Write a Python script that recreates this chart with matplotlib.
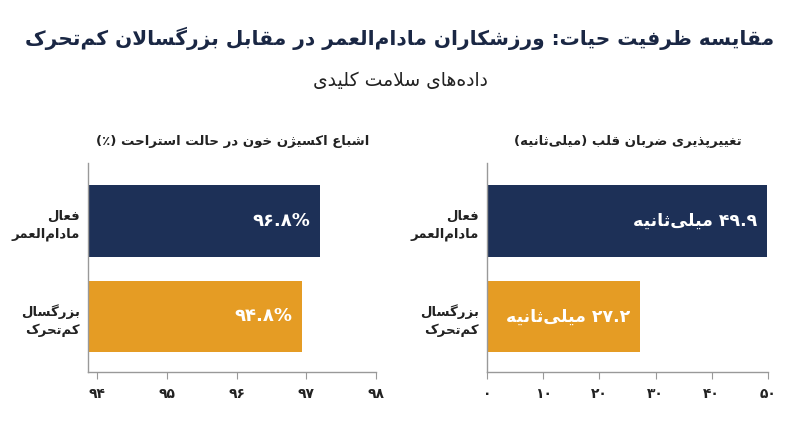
import re
import matplotlib
matplotlib.use("Agg")
import matplotlib.pyplot as plt

# data
categories = ["فعال\nمادام‌العمر", "بزرگسال\nکم‌تحرک"]
spo2_values = [96.8, 94.8]
spo2_labels = ["۹۶.۸%", "۹۴.۸%"]
hrv_values = [49.9, 27.2]
hrv_labels = ["۴۹.۹ میلی‌ثانیه", "۲۷.۲ میلی‌ثانیه"]
spo2_ticks = [94, 95, 96, 97, 98]
spo2_ticklabels = ["۹۴", "۹۵", "۹۶", "۹۷", "۹۸"]
hrv_ticks = [0, 10, 20, 30, 40, 50]
hrv_ticklabels = ["۰", "۱۰", "۲۰", "۳۰", "۴۰", "۵۰"]

title = "مقایسه ظرفیت حیات: ورزشکاران مادام‌العمر در مقابل بزرگسالان کم‌تحرک"
subtitle = "داده‌های سلامت کلیدی"
spo2_title = "اشباع اکسیژن خون در حالت استراحت (٪)"
hrv_title = "تغییرپذیری ضربان قلب (میلی‌ثانیه)"

colors = ["#1d3057", "#e59c24"]

# --- tiny arabic/persian shaper: matplotlib does no shaping or bidi ---
DUAL = {}
for base, start in [("ئ", 0xFE89), ("ب", 0xFE8F), ("ت", 0xFE95), ("ث", 0xFE99),
                    ("ج", 0xFE9D), ("ح", 0xFEA1), ("خ", 0xFEA5), ("س", 0xFEB1),
                    ("ش", 0xFEB5), ("ص", 0xFEB9), ("ض", 0xFEBD), ("ط", 0xFEC1),
                    ("ظ", 0xFEC5), ("ع", 0xFEC9), ("غ", 0xFECD), ("ف", 0xFED1),
                    ("ق", 0xFED5), ("ك", 0xFED9), ("ل", 0xFEDD), ("م", 0xFEE1),
                    ("ن", 0xFEE5), ("ه", 0xFEE9), ("ي", 0xFEF1), ("پ", 0xFB56),
                    ("چ", 0xFB7A), ("ک", 0xFB8E), ("گ", 0xFB92), ("ی", 0xFBFC)]:
    DUAL[base] = tuple(chr(start + k) for k in range(4))
RIGHT = {}
for base, start in [("آ", 0xFE81), ("أ", 0xFE83), ("ؤ", 0xFE85), ("إ", 0xFE87),
                    ("ا", 0xFE8D), ("ة", 0xFE93), ("د", 0xFEA9), ("ذ", 0xFEAB),
                    ("ر", 0xFEAD), ("ز", 0xFEAF), ("و", 0xFEED), ("ژ", 0xFB8A),
                    ("لا", 0xFEFB)]:
    RIGHT[base] = (chr(start), chr(start + 1))
MIRROR = str.maketrans("()", ")(")


def shape(text):
    units = []
    i = 0
    while i < len(text):
        if text[i:i + 2] == "لا":
            units.append("لا")
            i += 2
        else:
            units.append(text[i])
            i += 1
    out = []
    for i, u in enumerate(units):
        forms = DUAL.get(u) or RIGHT.get(u)
        if forms is None:
            if u != "\u200c":
                out.append(u)
            continue
        p = i > 0 and units[i - 1] in DUAL
        nx = u in DUAL and i + 1 < len(units) and (units[i + 1] in DUAL or units[i + 1] in RIGHT)
        if p and nx:
            out.append(forms[3])
        elif p:
            out.append(forms[1])
        elif nx:
            out.append(forms[2])
        else:
            out.append(forms[0])
    return "".join(out)


def fa(text):
    lines = []
    for line in text.split("\n"):
        s = shape(line)
        runs = re.findall(r"[0-9۰-۹][0-9۰-۹.%]*|[^0-9۰-۹]+", s)
        vis = []
        for r in reversed(runs):
            if r[0].isdigit():
                vis.append(r)
            else:
                vis.append(r[::-1].translate(MIRROR))
        lines.append("".join(vis))
    return "\n".join(lines)


plt.rcParams["font.family"] = ["DejaVu Sans"]

fig = plt.figure(figsize=(8, 4.47), dpi=100)
fig.text(0.5, 0.915, fa(title), ha="center", va="center", fontsize=14.5,
         fontweight="bold", color="#1a2744")
fig.text(0.5, 0.821, fa(subtitle), ha="center", va="center", fontsize=13.5, color="#222222")

ypos = [0, 1]


def style(ax):
    for s in ["top", "right"]:
        ax.spines[s].set_visible(False)
    for s in ["left", "bottom"]:
        ax.spines[s].set_color("#999999")
        ax.spines[s].set_linewidth(1)
    ax.set_ylim(1.58, -0.61)
    ax.set_yticks(ypos)
    ax.set_yticklabels([fa(c) for c in categories], fontsize=9.5, fontweight="bold",
                       color="#222222", linespacing=1.5)
    ax.tick_params(axis="y", length=0, pad=6)


def value_labels(ax, values, labels, size):
    for y, v, lab in zip(ypos, values, labels):
        ax.annotate(fa(lab), (v, y), xytext=(-7, 0), textcoords="offset points",
                    ha="right", va="center", color="white", fontsize=size,
                    fontweight="bold")


# left panel: the bars sit on their own scale, ticks on a second one (as in the source)
ax1 = fig.add_axes([0.1104, 0.1685, 0.36, 0.4676])
ax1.barh(ypos, spo2_values, height=0.75, color=colors)
ax1.set_xlim(min(spo2_values) * 0.75, max(spo2_values) * 1.065)
ax1.set_xticks([])
style(ax1)
value_labels(ax1, spo2_values, spo2_labels, 13)
ax1b = ax1.twiny()
ax1b.xaxis.set_ticks_position("bottom")
ax1b.set_xlim(93.88, 98)
ax1b.set_xticks(spo2_ticks)
ax1b.set_xticklabels(spo2_ticklabels, fontsize=10, fontweight="bold", color="#222222")
ax1b.tick_params(axis="x", length=5, color="#999999", pad=6)
for s in ax1b.spines.values():
    s.set_visible(False)
ax1.set_title(fa(spo2_title), fontsize=9.5, fontweight="bold", color="#222222", pad=13)

# right panel
ax2 = fig.add_axes([0.6091, 0.1685, 0.3505, 0.4676])
ax2.barh(ypos, hrv_values, height=0.75, color=colors)
ax2.set_xlim(0, 50)
ax2.set_xticks(hrv_ticks)
ax2.set_xticklabels(hrv_ticklabels, fontsize=10, fontweight="bold", color="#222222")
ax2.tick_params(axis="x", length=5, color="#999999", pad=6)
style(ax2)
value_labels(ax2, hrv_values, hrv_labels, 12.5)
ax2.set_title(fa(hrv_title), fontsize=9.5, fontweight="bold", color="#222222", pad=13)

fig.savefig("out.png", dpi=100)
